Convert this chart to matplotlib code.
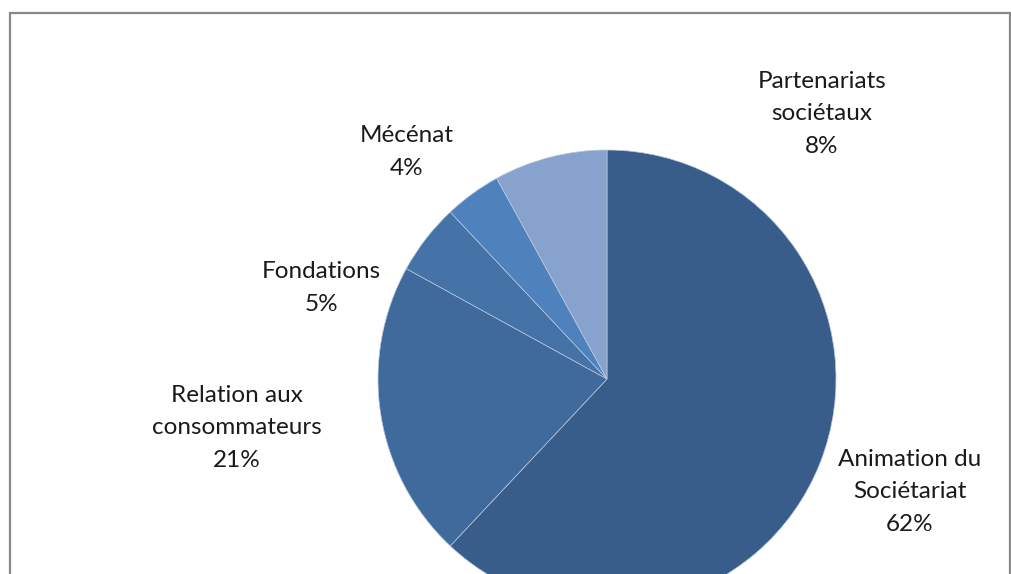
import matplotlib.pyplot as plt
from matplotlib.patches import Rectangle

categories = ['Animation du\nSociétariat', 'Relation aux\nconsommateurs', 'Fondations',
              'Mécénat', 'Partenariats\nsociétaux']
values = [62, 21, 5, 4, 8]
colors = ['#385D8A', '#416A9C', '#4572A7', '#4F81BD', '#87A2CC']

# label centres in pixels (x, y from top)
label_pos = [(910, 492), (237, 428), (321, 288), (407, 152), (822, 114)]

W, H = 1011, 574
fig = plt.figure(figsize=(W / 100, H / 100), dpi=100)
ax = fig.add_axes([0, 0, 1, 1])

cx, cy, r = 607, 379, 229
ax.pie(values, colors=colors, startangle=90, counterclock=False,
       center=(cx, H - cy), radius=r,
       wedgeprops=dict(edgecolor='#B8C8DE', linewidth=0.5))
ax.set_xlim(0, W)
ax.set_ylim(0, H)
ax.set_aspect('equal')
ax.axis('off')

total = sum(values)
for name, v, (x, y) in zip(categories, values, label_pos):
    pct = '%d%%' % round(100.0 * v / total)
    ax.text(x, H - y, name + '\n' + pct, ha='center', va='center',
            fontsize=17.5, family='Lato', color='#1a1a1a', linespacing=1.66)

# chart border, bottom edge is cut off by the picture
fig.patches.append(Rectangle((10 / W, -0.1), 1000 / W, (H - 13) / H + 0.1,
                             transform=fig.transFigure, fill=False,
                             edgecolor='#888888', linewidth=1.6))

fig.savefig('out.png', dpi=100)
